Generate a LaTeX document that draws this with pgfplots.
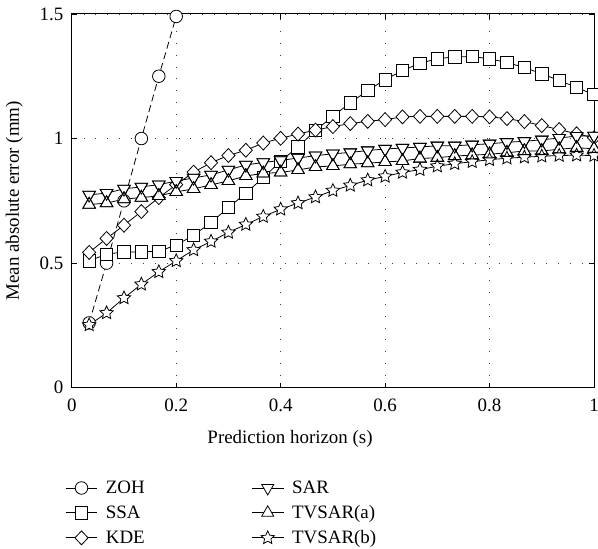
\documentclass[border=0pt]{standalone}
\usepackage{fontspec}
\setmainfont{Liberation Serif}
\usepackage{pgfplots}
\usepackage{pgfplotstable}
\pgfplotsset{compat=1.18}

% outlined five-pointed star
\pgfdeclareplotmark{ostar}{%
  \pgfpathmoveto{\pgfqpointpolar{90}{\pgfplotmarksize}}%
  \pgfpathlineto{\pgfqpointpolar{126}{0.48\pgfplotmarksize}}%
  \pgfpathlineto{\pgfqpointpolar{162}{\pgfplotmarksize}}%
  \pgfpathlineto{\pgfqpointpolar{198}{0.48\pgfplotmarksize}}%
  \pgfpathlineto{\pgfqpointpolar{234}{\pgfplotmarksize}}%
  \pgfpathlineto{\pgfqpointpolar{270}{0.48\pgfplotmarksize}}%
  \pgfpathlineto{\pgfqpointpolar{306}{\pgfplotmarksize}}%
  \pgfpathlineto{\pgfqpointpolar{342}{0.48\pgfplotmarksize}}%
  \pgfpathlineto{\pgfqpointpolar{18}{\pgfplotmarksize}}%
  \pgfpathlineto{\pgfqpointpolar{54}{0.48\pgfplotmarksize}}%
  \pgfpathclose
  \pgfusepathqfillstroke
}

\pgfplotstableread{
x      zoh
0.0333 0.26
0.0667 0.50
0.1    0.75
0.1333 1.00
0.1667 1.25
0.2    1.49
}\zohtab

\pgfplotstableread{
x      ssa   kde   sar   tva   tvb
0.0333 0.509 0.543 0.774 0.735 0.252
0.0667 0.536 0.599 0.781 0.741 0.300
0.1    0.545 0.652 0.798 0.757 0.360
0.1333 0.545 0.707 0.806 0.763 0.415
0.1667 0.548 0.763 0.815 0.770 0.465
0.2    0.572 0.815 0.829 0.786 0.509
0.2333 0.612 0.865 0.842 0.798 0.553
0.2667 0.663 0.903 0.854 0.814 0.587
0.3    0.723 0.932 0.874 0.830 0.623
0.3333 0.781 0.953 0.894 0.850 0.655
0.3667 0.843 0.982 0.904 0.860 0.687
0.4    0.909 1.001 0.912 0.864 0.716
0.4333 0.967 1.018 0.922 0.874 0.741
0.4667 1.032 1.034 0.931 0.886 0.765
0.5    1.090 1.048 0.939 0.890 0.791
0.5333 1.143 1.060 0.944 0.897 0.812
0.5667 1.193 1.069 0.952 0.901 0.833
0.6    1.236 1.076 0.958 0.906 0.848
0.6333 1.273 1.087 0.962 0.910 0.864
0.6667 1.302 1.089 0.966 0.920 0.875
0.7    1.320 1.089 0.971 0.923 0.889
0.7333 1.328 1.089 0.971 0.930 0.899
0.7667 1.329 1.089 0.975 0.933 0.907
0.8    1.320 1.087 0.979 0.937 0.915
0.8333 1.305 1.080 0.985 0.943 0.921
0.8667 1.285 1.068 0.989 0.950 0.925
0.9    1.260 1.052 0.995 0.950 0.929
0.9333 1.233 1.036 1.002 0.957 0.932
0.9667 1.205 1.019 1.010 0.963 0.933
1      1.176 1.003 1.011 0.959 0.932
}\errtab

\pgfplotsset{
  ln/.style={black, line width=0.8bp, no marks, forget plot},
  mk/.style={only marks, forget plot, mark size=#1,
    every mark/.append style={solid, draw=black, fill=white, line width=0.8bp}},
  lg/.style={black, line width=0.8bp, mark size=#1, mark options={solid, fill=white}},
}

\begin{document}
\begin{tikzpicture}[font=\fontsize{19bp}{22bp}\selectfont]
\begin{axis}[
  name=ax, at={(0,0)}, anchor=south west,
  scale only axis, width=524bp, height=375bp,
  xmin=0, xmax=1, ymin=0, ymax=1.5,
  xtick={0,0.2,0.4,0.6,0.8,1}, ytick={0,0.5,1,1.5},
  /pgf/number format/assume math mode=true,
  xticklabel style={yshift=-8bp},
  yticklabel style={xshift=-5bp},
  grid=major,
  major grid style={black!75, line width=0.9bp, dash pattern=on 0.9bp off 11bp},
  axis line style={line width=1bp},
  major tick length=5bp, tick style={black, line width=0.8bp},
  xlabel={Prediction horizon (s)}, ylabel={Mean absolute error (mm)},
  xlabel style={at={(axis description cs:0.418,-0.136)}, anchor=center},
  ylabel style={at={(axis description cs:-0.087,0.5)}, anchor=south},
  clip=false,
  legend columns=2, legend cell align=left,
  legend style={draw=none, fill=none, at={(-0.013,-0.249)}, anchor=north west,
    inner sep=0pt, nodes={inner sep=0pt}, row sep=10.5bp,
    /tikz/every even column/.append style={column sep=107bp},
    /tikz/every odd column/.append style={column sep=8bp}},
  legend image code/.code={\draw[mark repeat=2, mark phase=2, #1, solid]
    plot coordinates {(0bp,0bp) (16bp,0bp) (32bp,0bp)};},
]
% lines
\addplot[ln, dash pattern=on 7bp off 4bp] table[x=x, y=zoh] {\zohtab};
\addplot[ln] table[x=x, y=ssa] {\errtab};
\addplot[ln] table[x=x, y=kde] {\errtab};
\addplot[ln] table[x=x, y=sar] {\errtab};
\addplot[ln] table[x=x, y=tva] {\errtab};
\addplot[ln] table[x=x, y=tvb] {\errtab};
% markers, white filled
\addplot[mk=6.3bp, mark=*] table[x=x, y=zoh] {\zohtab};
\addplot[mk=6.2bp, mark=square*] table[x=x, y=ssa] {\errtab};
\addplot[mk=7bp, mark=diamond*, every mark/.append style={xscale=1.25}] table[x=x, y=kde] {\errtab};
\addplot[mk=7.3bp, mark=triangle*, every mark/.append style={rotate=180}] table[x=x, y=sar] {\errtab};
\addplot[mk=7.3bp, mark=triangle*] table[x=x, y=tva] {\errtab};
\addplot[mk=7bp, mark=ostar] table[x=x, y=tvb] {\errtab};
% triangle outlines again so both stay visible where they overlap
\addplot[mk=7.3bp, mark=triangle, every mark/.append style={rotate=180}] table[x=x, y=sar] {\errtab};
\addplot[mk=7.3bp, mark=triangle] table[x=x, y=tva] {\errtab};

\addlegendimage{lg=6.3bp, mark=*}
\addlegendentry{ZOH}
\addlegendimage{lg=7bp, mark=triangle*, mark options={solid, fill=white, rotate=180}}
\addlegendentry{SAR}
\addlegendimage{lg=6.2bp, mark=square*}
\addlegendentry{SSA}
\addlegendimage{lg=7bp, mark=triangle*}
\addlegendentry{TVSAR(a)}
\addlegendimage{lg=7bp, mark=diamond*, mark options={solid, fill=white, xscale=1.25}}
\addlegendentry{KDE}
\addlegendimage{lg=7bp, mark=ostar}
\addlegendentry{TVSAR(b)}
\end{axis}
\pgfresetboundingbox
\useasboundingbox ([shift={(-72bp,-161bp)}]ax.south west) rectangle ([shift={(4bp,14bp)}]ax.north east);
\end{tikzpicture}
\end{document}
